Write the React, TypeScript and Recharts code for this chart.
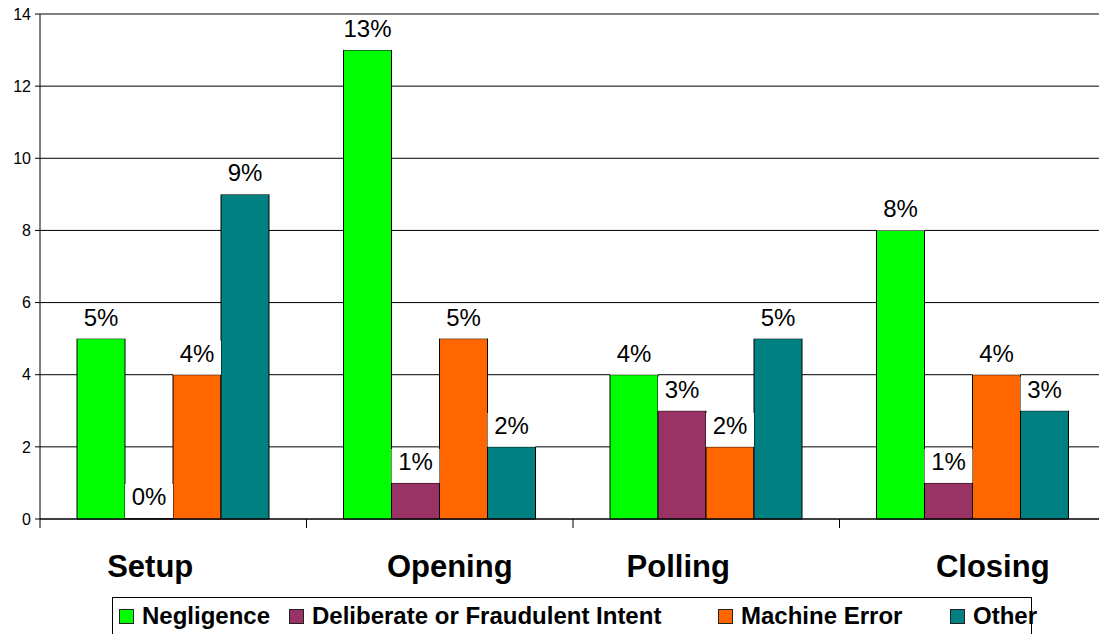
import { BarChart, Bar, XAxis, YAxis, CartesianGrid, LabelList, ReferenceLine } from "recharts";

const categories = ["Setup", "Opening", "Polling", "Closing"];
const negligence = [5, 13, 4, 8];
const deliberate = [0, 1, 3, 1];
const machineError = [4, 5, 2, 4];
const other = [9, 2, 5, 3];
const yTicks = [0, 2, 4, 6, 8, 10, 12, 14];

const series = [
  { key: "negligence", name: "Negligence", color: "#00FF00" },
  { key: "deliberate", name: "Deliberate or Fraudulent Intent", color: "#993366" },
  { key: "machineError", name: "Machine Error", color: "#FF6600" },
  { key: "other", name: "Other", color: "#008080" },
];

const data = categories.map((name, i) => ({
  name,
  negligence: negligence[i],
  deliberate: deliberate[i],
  machineError: machineError[i],
  other: other[i],
}));

const FONT = "'Liberation Sans', Arial, sans-serif";
const BAND = (1110 - 4 - 40) / 4;
// excel puts the category names a bit off-centre
const labelShift = [-23, 10, -28, 20];
const legendLeft = [6, 176, 605, 837];

function CategoryTick({ x, y, payload, index }: any) {
  const left = x - BAND / 2;
  return (
    <g>
      <line x1={left} x2={left} y1={y - 8} y2={y + 1} stroke="#000" />
      {index === categories.length - 1 && (
        <line x1={x + BAND / 2} x2={x + BAND / 2} y1={y - 8} y2={y + 1} stroke="#000" />
      )}
      <text
        x={x + labelShift[index]}
        y={y + 50}
        textAnchor="middle"
        fontFamily={FONT}
        fontWeight="bold"
        fontSize={31}
        fill="#000"
      >
        {payload.value}
      </text>
    </g>
  );
}

function ValueLabel({ x, y, width, value }: any) {
  return (
    <g>
      <rect x={x} y={y - 34} width={width} height={34} fill="#fff" />
      <text x={x + width / 2} y={y - 13} textAnchor="middle" fontFamily={FONT} fontSize={24} fill="#000">
        {value}%
      </text>
    </g>
  );
}

export default function App() {
  return (
    <div
      style={{
        position: "absolute",
        left: 0,
        top: 0,
        width: 1099,
        height: 634,
        overflow: "hidden",
        background: "#fff",
        fontFamily: FONT,
      }}
    >
      <BarChart
        width={1110}
        height={634}
        data={data}
        margin={{ top: 14, right: 4, left: 0, bottom: 0 }}
        barCategoryGap={37}
        barGap={0}
      >
        <CartesianGrid vertical={false} stroke="#000" strokeWidth={1} />
        <XAxis
          dataKey="name"
          height={115}
          axisLine={{ stroke: "#000" }}
          tickLine={false}
          tick={<CategoryTick />}
          interval={0}
        />
        <YAxis
          width={40}
          domain={[0, 14]}
          ticks={yTicks}
          interval={0}
          axisLine={{ stroke: "#000" }}
          tickLine={{ stroke: "#000" }}
          tickSize={5}
          tickMargin={4}
          tick={{ fill: "#000", fontSize: 16, fontFamily: FONT }}
        />
        <ReferenceLine y={14} stroke="#808080" strokeWidth={2} />
        {series.map((s) => (
          <Bar
            key={s.key}
            dataKey={s.key}
            name={s.name}
            fill={s.color}
            stroke="#000"
            strokeWidth={1}
            minPointSize={1}
            isAnimationActive={false}
          >
            <LabelList dataKey={s.key} content={<ValueLabel />} />
          </Bar>
        ))}
      </BarChart>
      <div
        style={{
          position: "absolute",
          left: 112,
          top: 597,
          width: 920,
          height: 40,
          border: "1px solid #000",
          boxSizing: "border-box",
        }}
      >
        {series.map((s, i) => (
          <div
            key={s.key}
            style={{
              position: "absolute",
              left: legendLeft[i],
              top: 4,
              display: "flex",
              alignItems: "center",
              whiteSpace: "nowrap",
            }}
          >
            <span
              style={{
                display: "inline-block",
                width: 15,
                height: 15,
                background: s.color,
                border: "1px solid #222",
                boxSizing: "border-box",
                marginRight: 8,
              }}
            />
            <span style={{ fontWeight: "bold", fontSize: 24, color: "#000" }}>{s.name}</span>
          </div>
        ))}
      </div>
    </div>
  );
}
